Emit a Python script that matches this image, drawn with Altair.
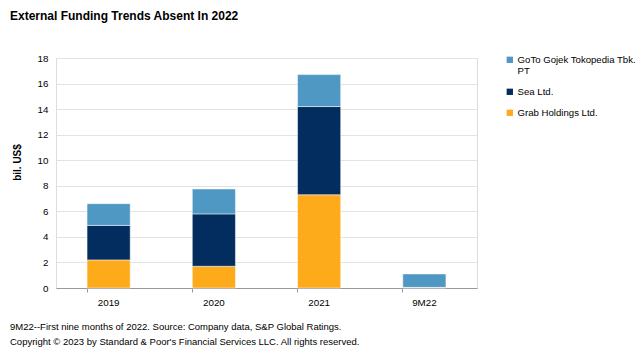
import altair as alt
import pandas as pd

periods = ["2019", "2020", "2021", "9M22"]
companies = ["GoTo Gojek Tokopedia Tbk. PT", "Sea Ltd.", "Grab Holdings Ltd."]
colors = ["#4E98C3", "#032D5E", "#FDAA1B"]
stack_rank = {"Grab Holdings Ltd.": 0, "Sea Ltd.": 1, "GoTo Gojek Tokopedia Tbk. PT": 2}

grab = [2.2, 1.7, 7.3, 0.05]
sea = [2.7, 4.1, 6.9, 0.0]
goto = [1.7, 1.95, 2.5, 1.05]

rows = []
for i, p in enumerate(periods):
    for name, vals in [("Grab Holdings Ltd.", grab), ("Sea Ltd.", sea), ("GoTo Gojek Tokopedia Tbk. PT", goto)]:
        rows.append({"period": p, "company": name, "value": vals[i], "rank": stack_rank[name]})
df = pd.DataFrame(rows)

FONT = "Liberation Sans"

bars = alt.Chart(df).mark_bar(stroke="white", strokeWidth=0.5).encode(
    x=alt.X("period:N", sort=periods, title=None,
            scale=alt.Scale(paddingInner=0.59, paddingOuter=0.295),
            axis=alt.Axis(labelAngle=0, labelFont=FONT, labelFontSize=9.8, labelColor="#000",
                          domainColor="#999", tickColor="#999", tickSize=4, bandPosition=0,
                          labelPadding=5)),
    y=alt.Y("value:Q", stack="zero", title="bil. US$",
            scale=alt.Scale(domain=[0, 18], nice=False),
            axis=alt.Axis(values=list(range(0, 19, 2)), grid=True, gridColor="#e3e3e3",
                          domain=False, ticks=False, labelFont=FONT, labelFontSize=9.8,
                          labelColor="#000", labelPadding=8,
                          titleFont=FONT, titleFontSize=10, titleFontWeight="bold",
                          titleColor="#000", titlePadding=15, titleY=104)),
    color=alt.Color("company:N", scale=alt.Scale(domain=companies, range=colors),
                    legend=alt.Legend(title=None, orient="none", legendX=449, legendY=-3,
                                      symbolType="square", symbolSize=40, symbolStrokeWidth=0,
                                      labelFont=FONT, labelFontSize=9.6, labelColor="#000",
                                      labelLimit=200, rowPadding=10, labelOffset=3,
                                      labelExpr="datum.label == 'GoTo Gojek Tokopedia Tbk. PT' ? ['GoTo Gojek Tokopedia Tbk.', 'PT'] : datum.label")),
    order=alt.Order("rank:Q", sort="ascending"),
)

def note(text, x, y, size, weight="normal"):
    return alt.Chart(pd.DataFrame({"t": [text]})).mark_text(
        align="left", baseline="alphabetic", font=FONT, fontSize=size,
        fontWeight=weight, color="#000"
    ).encode(x=alt.value(x), y=alt.value(y), text="t:N")

title = note("External Funding Trends Absent In 2022", -46, -38, 12, "bold")
foot1 = note("9M22--First nine months of 2022. Source: Company data, S&P Global Ratings.", -46, 272, 9.5)
foot2 = note("Copyright \u00a9 2023 by Standard & Poor's Financial Services LLC. All rights reserved.", -46, 287, 9.5)

chart = alt.layer(bars, title, foot1, foot2).properties(
    width=421, height=230,
    autosize=alt.AutoSizeParams(type="none"),
    padding={"left": 56, "top": 58, "right": 163, "bottom": 69},
).configure_view(stroke=None).configure(background="white")

chart.save("out.html", embed_options={"renderer": "svg", "actions": False})
